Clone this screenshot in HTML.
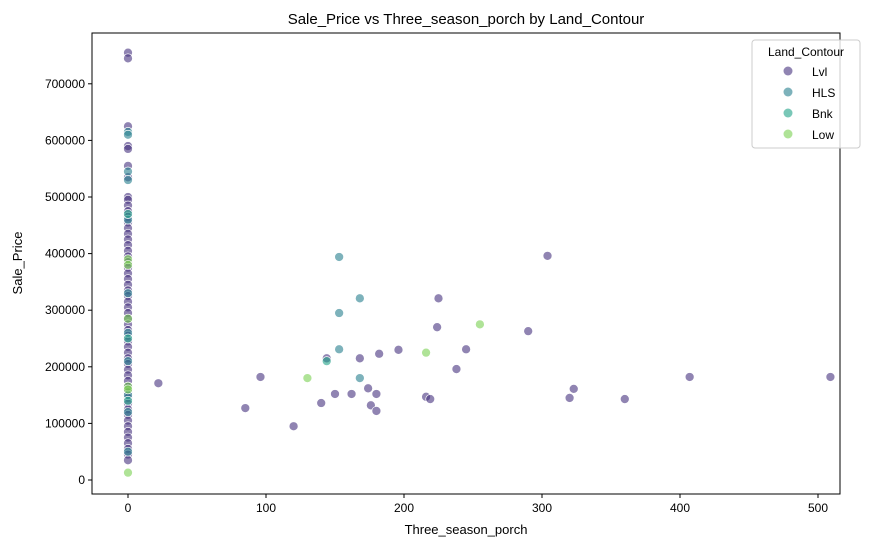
<!DOCTYPE html>
<html><head><meta charset="utf-8"><style>
body{margin:0;background:#fff;font-family:"Liberation Sans",sans-serif}
text{font-family:"Liberation Sans",sans-serif;fill:#000}
</style></head><body>
<svg id="chart" width="877" height="547">
<g id="plot"></g>
</svg>
<script>
const xTicks=[0,100,200,300,400,500];
const yTicks=[0,100000,200000,300000,400000,500000,600000,700000];
const categories=["Lvl","HLS","Bnk","Low"];
const colors={"Lvl":"#46327e","HLS":"#277f8e","Bnk":"#1fa187","Low":"#7ad151"};
const zeroLvl=[755000,745000,625000,590000,585000,555000,535000,500000,495000,485000,475000,465000,455000,445000,435000,425000,415000,405000,395000,385000,375000,365000,355000,345000,335000,325000,315000,305000,295000,285000,275000,265000,255000,245000,235000,225000,215000,205000,195000,185000,175000,165000,155000,145000,135000,125000,115000,105000,95000,85000,75000,65000,55000,45000,35000];
const zeroHLS=[615000,610000,545000,530000,460000,330000,260000,210000,150000,120000,50000];
const zeroBnk=[470000,250000,140000];
const zeroLow=[390000,380000,285000,165000,160000,13000];
const lvlX=[22,85,96,120,140,150,162,168,174,176,180,180,182,196,216,219,224,225,245,238,290,304,320,323,360,407,509,144];
const lvlY=[171000,127000,182000,95000,136000,152000,152000,215000,162000,132000,152000,122000,223000,230000,147000,143000,270000,321000,231000,196000,263000,396000,145000,161000,143000,182000,182000,215000];
const hlsX=[153,168,153,153,168];
const hlsY=[394000,321000,295000,231000,180000];
const bnkX=[144];
const bnkY=[210000];
const lowX=[130,216,255];
const lowY=[180000,225000,275000];

const L=92,R=840,T=33,B=494;
const sx=v=>128+v*1.38;
const sy=v=>480-v*0.000566;
const svg=document.getElementById('chart');
const NS="http://www.w3.org/2000/svg";
function mk(tag,attrs,parent){const e=document.createElementNS(NS,tag);for(const k in attrs)e.setAttribute(k,attrs[k]);(parent||svg).appendChild(e);return e;}
const t=mk('text',{x:466,y:24,'text-anchor':'middle','font-size':15});t.textContent="Sale_Price vs Three_season_porch by Land_Contour";


xTicks.forEach(v=>{const x=sx(v);
 const l=mk('line',{x1:x,x2:x,y1:B,y2:B+4,stroke:'#000'});
 
 
 const tx=mk('text',{x:x,y:B+18,'text-anchor':'middle','font-size':12});tx.textContent=v;
 
 });
yTicks.forEach(v=>{const y=sy(v);
 const l=mk('line',{x1:L-4,x2:L,y1:y,y2:y,stroke:'#000'});
 
 
 const tx=mk('text',{x:L-7,y:y+4,'text-anchor':'end','font-size':12});tx.textContent=v;
 
 });
const xl=mk('text',{x:466,y:534,'text-anchor':'middle','font-size':13});xl.textContent="Three_season_porch";


const yl=mk('text',{x:22,y:263,'text-anchor':'middle','font-size':13,transform:'rotate(-90 22 263)'});yl.textContent="Sale_Price";


function pts(xs,ys,cat){for(let i=0;i<ys.length;i++){const c=mk('circle',{cx:sx(xs?xs[i]:0),cy:sy(ys[i]),r:4.5,fill:colors[cat],'fill-opacity':0.6,stroke:'#fff','stroke-width':0.7});
 
 }}
pts(null,zeroLvl,"Lvl");pts(null,zeroHLS,"HLS");pts(null,zeroBnk,"Bnk");pts(null,zeroLow,"Low");
pts(lvlX,lvlY,"Lvl");pts(hlsX,hlsY,"HLS");pts(bnkX,bnkY,"Bnk");pts(lowX,lowY,"Low");
const fr=mk('rect',{x:L,y:T,width:R-L,height:B-T,fill:'none',stroke:'#000','stroke-width':1});


const lg=mk('rect',{x:752,y:40,width:108,height:108,fill:'#fff','fill-opacity':0.8,stroke:'#ccc',rx:3});


const lt=mk('text',{x:806,y:56,'text-anchor':'middle','font-size':12});lt.textContent="Land_Contour";


categories.forEach((c,i)=>{const y=72+i*21;
 const d=mk('circle',{cx:788,cy:y-1,r:4.5,fill:colors[c],'fill-opacity':0.6});
 
 
 const tx=mk('text',{x:812,y:y+4,'font-size':12});tx.textContent=c;
 
 });
</script>
</body></html>
